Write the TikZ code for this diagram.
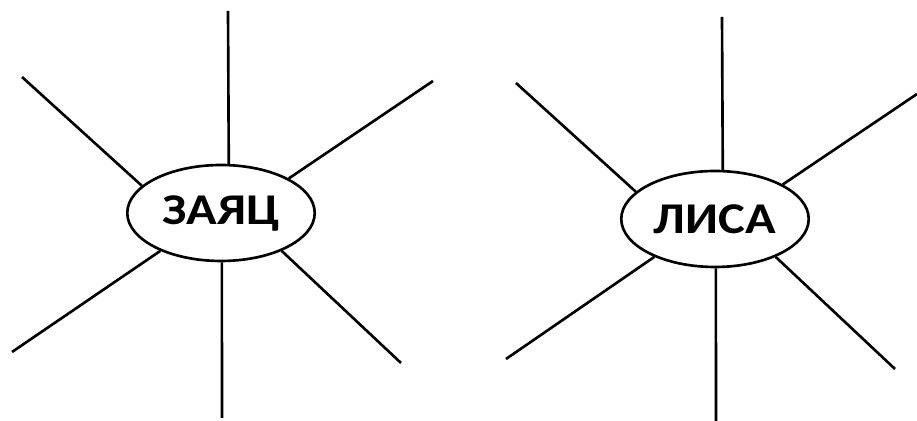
\documentclass[tikz,border=0pt]{standalone}
\usepackage{fontspec}
\newfontfamily\labelfont[FakeStretch=1.15]{Carlito}
\usetikzlibrary{shapes.geometric}
\tikzset{>=latex}

\begin{document}
\begin{tikzpicture}[x=0.02cm, y=-0.02cm,
    animal/.style={draw, ellipse, line width=1.5pt, minimum width=3.75cm, minimum height=1.92cm, inner sep=0pt, font=\labelfont\bfseries\fontsize{25}{25}\selectfont},
    ray/.style={line width=1.5pt}]
    \useasboundingbox (0,0) rectangle (917,421);
    % Nodes
    \node[animal] (Zayac) at (221,213) {ЗАЯЦ};
    \node[animal] (Lisa) at (715,219) {ЛИСА};

    % Ends of the rays
    \coordinate (Z1) at (22,77);
    \coordinate (Z2) at (228,11);
    \coordinate (Z3) at (433,81);
    \coordinate (Z4) at (12,352);
    \coordinate (Z5) at (222,418);
    \coordinate (Z6) at (401,363);
    \coordinate (L1) at (516,83);
    \coordinate (L2) at (722,17);
    \coordinate (L3) at (917,94);
    \coordinate (L4) at (506,359);
    \coordinate (L5) at (716,421);
    \coordinate (L6) at (895,369);

    % Rays
    \foreach \n/\a in {1/161.6, 2/81.9, 3/27.2, 4/212.4, 5/271, 6/328} {
        \draw[ray] (Zayac.\a) -- (Z\n);
        \draw[ray] (Lisa.\a) -- (L\n);
    }
\end{tikzpicture}
\end{document}
